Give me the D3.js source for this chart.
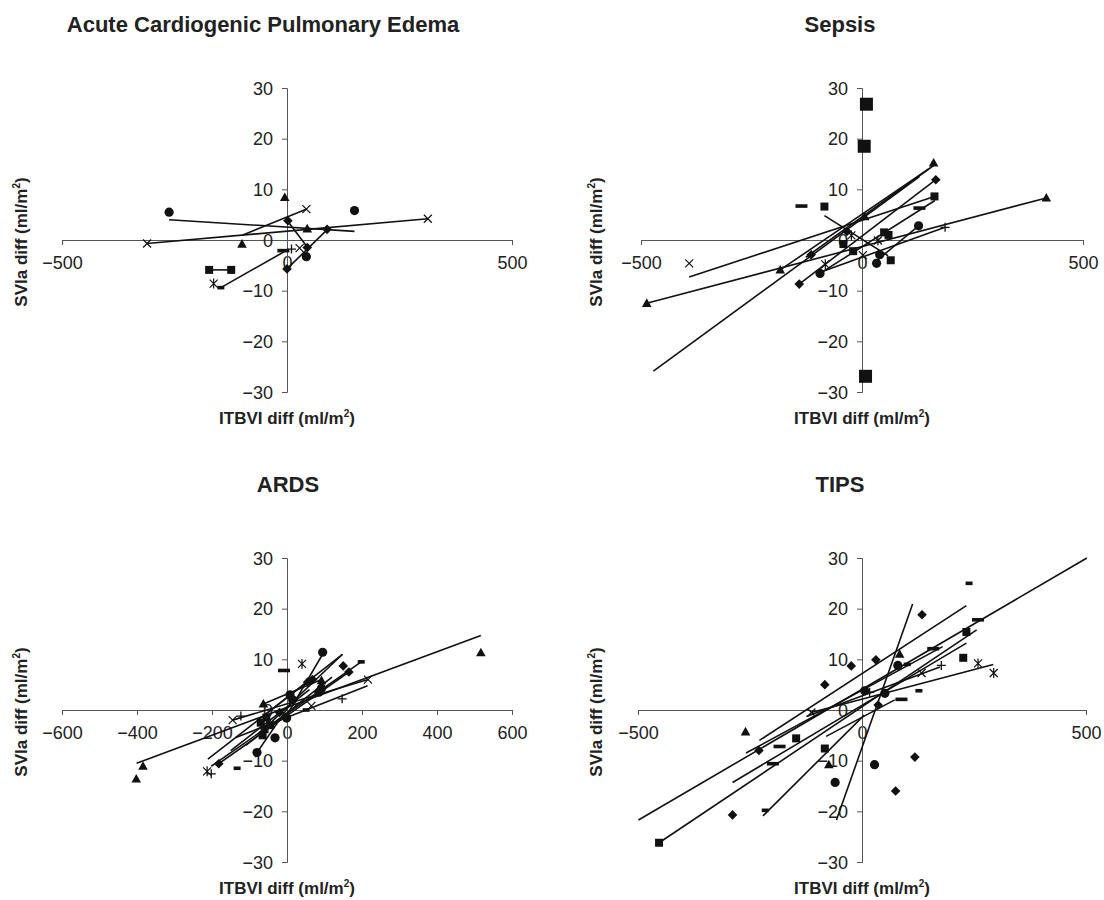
<!DOCTYPE html>
<html><head><meta charset="utf-8">
<script src="https://cdn.jsdelivr.net/npm/d3@7"></script>
<style>
body{margin:0;background:#fff;}
svg{display:block;}
.tick text{font-family:"Liberation Sans",Arial,Helvetica,sans-serif;font-size:18px;fill:#222;}
.ttl{font-family:"Liberation Sans",Arial,Helvetica,sans-serif;font-weight:bold;fill:#222;}
</style></head>
<body>
<svg id="c" width="1104" height="900"></svg>
<script>
// ---------- titles / ticks ----------
const panelTitles = ["Acute Cardiogenic Pulmonary Edema", "Sepsis", "ARDS", "TIPS"];
const xTitle = "ITBVI diff (ml/m";
const yTitle = "SVIa diff (ml/m";
const yTicks = [-30, -20, -10, 0, 10, 20, 30];
const xTicks500 = [-500, 0, 500];
const xTicks600 = [-600, -400, -200, 0, 200, 400, 600];

// ---------- data: [ITBVI diff, SVIa diff, marker] ----------
const acpeMarkers = [
  [-262,5.5,'circle'],[150,5.8,'circle'],[43,-3.3,'circle'],
  [0,-5.7,'diamond'],[2,3.8,'diamond'],[45,-1.5,'diamond'],[89,2.1,'diamond'],
  [-5,8.4,'triangle'],[-100,-0.8,'triangle'],[45,2.2,'triangle'],
  [-311,-0.7,'x'],[43,6.1,'x'],[313,4.2,'x'],[28,-1.6,'x'],
  [-173,-5.9,'square'],[-124,-5.9,'square'],
  [-163,-8.6,'asterisk'],[-147,-9.4,'sdash'],[-8,-2.1,'dash'],[10,-1.8,'plus']
];
// trend lines: [x1,y1,x2,y2]
const acpeLines = [
  [-262,4.0,150,1.7],[-311,-0.7,313,4.2],[-98,1.0,44,6.1],
  [0,3.9,45,-1.4],[0,-5.7,90,2.1],[-147,-9.4,0,-2.0],[-173,-5.9,-124,-5.9]
];

const sepsisMarkers = [
  [10,26.8,'bigsquare'],[5,18.5,'bigsquare'],[8,-26.9,'bigsquare'],
  [162,15.2,'triangle'],[167,11.9,'diamond'],[164,8.6,'square'],[417,8.3,'triangle'],
  [-137,6.7,'dash'],[-85,6.6,'square'],[130,6.3,'dash'],[6,4.6,'triangle'],
  [128,2.8,'circle'],[188,2.5,'plus'],[-34,1.7,'diamond'],[50,1.5,'square'],[60,1.0,'square'],
  [36,-0.1,'asterisk'],[-24,0.9,'asterisk'],[-42,-0.8,'square'],[-20,-2.2,'square'],
  [40,-2.9,'circle'],[33,-4.6,'circle'],[65,-4.0,'square'],[2,-3.0,'x'],
  [-115,-2.9,'diamond'],[-391,-4.6,'x'],[-185,-5.9,'triangle'],[-95,-6.6,'circle'],
  [-83,-4.8,'asterisk'],[-142,-8.7,'diamond'],[-487,-12.5,'triangle']
];
const sepsisLines = [
  [-487,-12.5,417,8.3],[-391,-7.3,164,8.6],[-472,-25.9,130,12.5],
  [-142,-8.7,167,11.9],[-127,-3.4,162,14.7],[-95,-6.6,165,7.8],
  [33,-4.1,128,2.8],[-85,4.8,59,-3.1],[-96,-6.4,188,2.5],[-185,-5.9,150,14.0]
];

const ardsMarkers = [
  [517,11.3,'triangle'],[-384,-11.1,'triangle'],[-402,-13.6,'triangle'],
  [95,11.4,'circle'],[40,9.1,'asterisk'],[-8,7.8,'dash'],
  [150,8.7,'diamond'],[165,7.5,'diamond'],[198,9.5,'sdash'],[216,6.0,'x'],
  [147,2.2,'plus'],[65,0.8,'x'],[51,0.0,'sdash'],[-63,1.2,'triangle'],
  [-1,-1.6,'circle'],[-32,-5.5,'circle'],[-80,-8.4,'circle'],
  [-182,-10.6,'diamond'],[-133,-11.5,'sdash'],[-213,-12.1,'asterisk'],[-202,-12.6,'plus'],
  [-145,-2.0,'x'],[-123,-1.2,'plus'],
  [-60,-3.8,'square'],[-70,-2.5,'square'],[-55,-1.5,'square'],[-45,-3.0,'square'],[-65,-5.0,'square'],
  [8,3.0,'circle'],[15,2.0,'circle'],[68,6.0,'diamond'],[92,5.8,'triangle'],
  [92,4.3,'circle'],[85,3.5,'circle'],[55,5.5,'diamond'],[-20,-0.5,'diamond']
];
const ardsLines = [
  [-401,-10.5,517,14.7],[-211,-9.7,148,11.0],[-202,-11.1,200,9.6],
  [-145,-2.0,216,6.0],[-138,-5.5,215,4.8],[-80,-8.4,12,1.5],
  [-5,-1.6,95,11.0],[-72,-4.5,148,11.0],[-182,-10.6,165,7.5],
  [-63,1.2,92,6.0],[-110,-7.0,120,6.5],[-60,-1.0,70,6.5],[-150,-8.0,60,4.0]
];

const tipsMarkers = [
  [239,25.0,'sdash'],[134,18.8,'diamond'],[259,17.8,'dash'],[233,15.4,'square'],
  [159,12.1,'dash'],[84,11.0,'triangle'],[226,10.3,'square'],[31,9.9,'diamond'],
  [-24,8.7,'diamond'],[80,8.8,'circle'],[101,9.0,'sdash'],[177,8.8,'plus'],
  [259,9.2,'asterisk'],[294,7.3,'asterisk'],[133,7.3,'x'],[-83,5.0,'diamond'],
  [127,3.8,'sdash'],[6,3.8,'circle'],[51,3.3,'circle'],[17,3.5,'plus'],[88,2.1,'dash'],
  [-113,-0.5,'x'],[36,1.0,'diamond'],[-260,-4.3,'triangle'],[-230,-8.0,'diamond'],
  [-147,-5.6,'square'],[-184,-7.2,'dash'],[-83,-7.6,'square'],[-199,-10.6,'dash'],
  [-74,-10.8,'triangle'],[28,-10.8,'circle'],[118,-9.3,'diamond'],[-60,-14.3,'circle'],
  [75,-16.0,'diamond'],[-289,-20.7,'diamond'],[-216,-19.8,'sdash'],[-453,-26.2,'square']
];
const tipsLines = [
  [-499,-21.7,502,30.0],[-453,-26.2,256,15.8],[-289,-14.3,233,13.2],
  [-221,-20.9,5,-1.0],[-57,-21.7,113,20.9],[-229,-6.0,233,20.6],
  [-113,-0.5,293,9.0],[-259,-8.5,180,12.5],[-80,-5.2,73,2.0],[-124,-1.3,174,8.5]
];

// ---------- layout ----------
const panels = [
  {title:panelTitles[0], markers:acpeMarkers, lines:acpeLines, xt:xTicks500, xmax:500, cx:287, cy:240, xhalf:225, tx:263, ty:32},
  {title:panelTitles[1], markers:sepsisMarkers, lines:sepsisLines, xt:xTicks500, xmax:500, cx:862, cy:240, xhalf:221, tx:840, ty:32},
  {title:panelTitles[2], markers:ardsMarkers, lines:ardsLines, xt:xTicks600, xmax:600, cx:287, cy:710, xhalf:225, tx:288, ty:492},
  {title:panelTitles[3], markers:tipsMarkers, lines:tipsLines, xt:xTicks500, xmax:500, cx:862, cy:710, xhalf:224, tx:840, ty:492}
];

const svg = d3.select("#c");
svg.append("rect").attr("width",1104).attr("height",900).attr("fill","#fff");
const fmt = d => d < 0 ? "\u2212" + (-d) : String(d);

function marker(g, type, px, py) {
  const k = "#111";
  if (type === 'circle') g.append("circle").attr("cx",px).attr("cy",py).attr("r",4.6).attr("fill",k);
  else if (type === 'diamond') g.append("path").attr("d",`M${px},${py-4.8}L${px+4.8},${py}L${px},${py+4.8}L${px-4.8},${py}Z`).attr("fill",k);
  else if (type === 'square') g.append("rect").attr("x",px-4).attr("y",py-4).attr("width",8).attr("height",8).attr("fill",k);
  else if (type === 'bigsquare') g.append("rect").attr("x",px-6.5).attr("y",py-6.5).attr("width",13).attr("height",13).attr("fill",k);
  else if (type === 'triangle') g.append("path").attr("d",`M${px},${py-5}L${px+4.8},${py+3.6}L${px-4.8},${py+3.6}Z`).attr("fill",k);
  else if (type === 'x') g.append("path").attr("d",`M${px-4},${py-4}L${px+4},${py+4}M${px-4},${py+4}L${px+4},${py-4}`).attr("stroke",k).attr("stroke-width",1.2);
  else if (type === 'asterisk') g.append("path").attr("d",`M${px-4},${py-4}L${px+4},${py+4}M${px-4},${py+4}L${px+4},${py-4}M${px},${py-5}L${px},${py+5}`).attr("stroke",k).attr("stroke-width",1.2);
  else if (type === 'plus') g.append("path").attr("d",`M${px-4.5},${py}L${px+4.5},${py}M${px},${py-4.5}L${px},${py+4.5}`).attr("stroke",k).attr("stroke-width",1.3);
  else if (type === 'dash') g.append("rect").attr("x",px-6).attr("y",py-1.8).attr("width",12).attr("height",3.6).attr("fill",k);
  else if (type === 'sdash') g.append("rect").attr("x",px-3.5).attr("y",py-1.8).attr("width",7).attr("height",3.6).attr("fill",k);
}

panels.forEach(p => {
  const x = d3.scaleLinear().domain([-p.xmax, p.xmax]).range([p.cx - p.xhalf, p.cx + p.xhalf]);
  const y = d3.scaleLinear().domain([-30, 30]).range([p.cy + 152, p.cy - 152]);
  const g = svg.append("g");

  const xa = g.append("g").attr("transform",`translate(0,${y(0)})`)
    .call(d3.axisBottom(x).tickValues(p.xt).tickFormat(fmt).tickSize(5).tickSizeOuter(5).tickPadding(11));
  const ya = g.append("g").attr("transform",`translate(${x(0)},0)`)
    .call(d3.axisLeft(y).tickValues(yTicks).tickFormat(fmt).tickSize(5).tickSizeOuter(5).tickPadding(9));
  [xa, ya].forEach(a => { a.selectAll("path,line").attr("stroke","#555").attr("stroke-width",1); a.select(".domain").attr("fill","none"); });
  ya.selectAll(".tick text").attr("dy","0.34em");

  // trend lines
  g.selectAll(null).data(p.lines).enter().append("line")
    .attr("x1",d=>x(d[0])).attr("y1",d=>y(d[1])).attr("x2",d=>x(d[2])).attr("y2",d=>y(d[3]))
    .attr("stroke","#111").attr("stroke-width",1.6);
  // markers
  p.markers.forEach(m => marker(g, m[2], x(m[0]), y(m[1])));

  // titles
  g.append("text").attr("class","ttl").attr("x",p.tx).attr("y",p.ty).attr("text-anchor","middle")
    .attr("font-size",22).text(p.title);
  const xt = g.append("text").attr("class","ttl").attr("x",p.cx).attr("y",p.cy + 184).attr("text-anchor","middle").attr("font-size",17);
  xt.append("tspan").text(xTitle);
  xt.append("tspan").attr("font-size",10).attr("dy",-7).text("2");
  xt.append("tspan").attr("dy",7).text(")");
  const yx = p.cx - 260, yy = p.cy + 2;
  const yt = g.append("text").attr("class","ttl").attr("transform",`translate(${yx},${yy}) rotate(-90)`).attr("text-anchor","middle").attr("font-size",17);
  yt.append("tspan").text(yTitle);
  yt.append("tspan").attr("font-size",10).attr("dy",-7).text("2");
  yt.append("tspan").attr("dy",7).text(")");
});
</script>
</body></html>
